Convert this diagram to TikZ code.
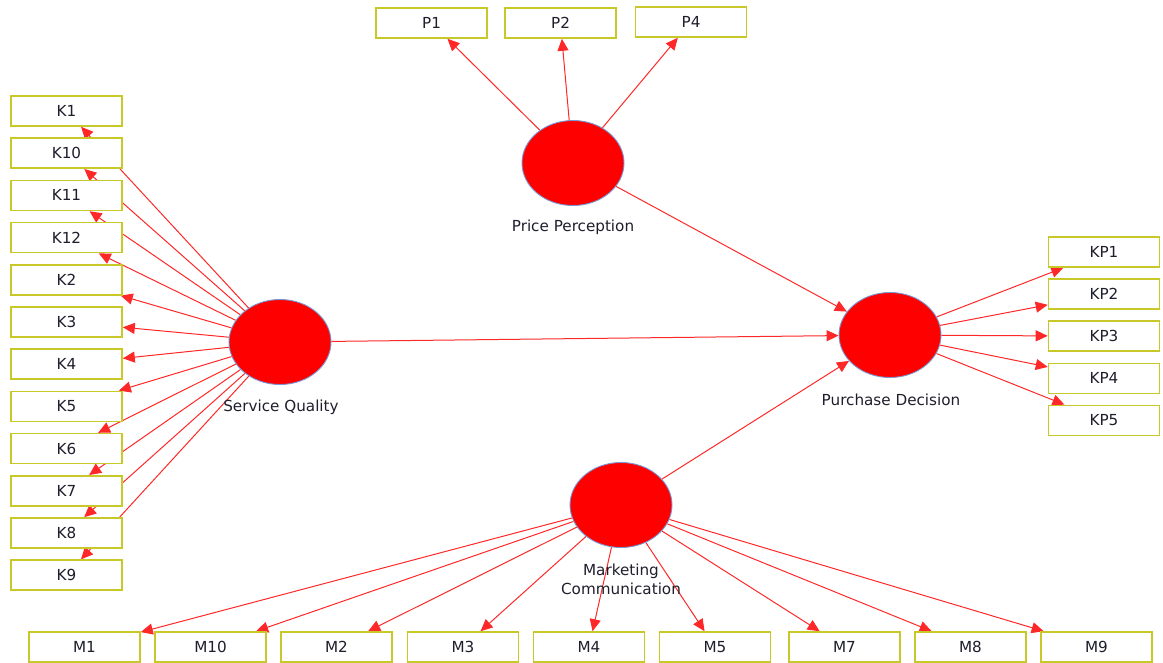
\documentclass[tikz,border=0pt]{standalone}
\usepackage{fontspec}
\setmainfont{DejaVu Sans}
\usetikzlibrary{arrows.meta,shapes.geometric}
\pgfdeclarelayer{bg}
\pgfsetlayers{bg,main}
\definecolor{boxline}{RGB}{200,200,40}
\definecolor{lvline}{RGB}{120,150,210}
\definecolor{txt}{RGB}{30,30,45}
\definecolor{linkred}{RGB}{255,40,40}
\tikzset{
  ind/.style={draw=boxline, line width=1.6pt, fill=white, minimum width=111pt, minimum height=30pt, inner sep=0pt, font=\fontsize{15.2}{17}\selectfont, text=txt},
  lv/.style={ellipse, draw=lvline, line width=0.9pt, fill=red, minimum width=102pt, minimum height=85pt, inner sep=0pt},
  lab/.style={font=\fontsize{15.2}{19}\selectfont, text=txt, align=center},
  link/.style={draw=linkred, line width=1pt, -{Triangle[length=12pt,width=11pt]}}
}
\begin{document}
\begin{tikzpicture}[x=1pt,y=-1pt]
\useasboundingbox (0,0) rectangle (1163,662);
% latent variables
\node[lv] (SQ) at (280,342) {};
\node[lv] (PP) at (573,163) {};
\node[lv] (PD) at (890,335) {};
\node[lv] (MC) at (621,505) {};
\node[lab] (SQl) at (281,407) {Service Quality};
\node[lab] (PPl) at (573,227) {Price Perception};
\node[lab] (PDl) at (891,400) {Purchase Decision};
\node[lab] (MCl) at (621,579) {Marketing\\Communication};
% K indicators
\foreach \n [count=\i from 0] in {K1,K10,K11,K12,K2,K3,K4,K5,K6,K7,K8,K9}{
  \node[ind] (\n) at (66.5,{111+42.2*\i}) {\n};
}
% KP indicators
\foreach \n [count=\i from 0] in {KP1,KP2,KP3,KP4,KP5}{
  \node[ind] (\n) at (1104,{252+42.1*\i}) {\n};
}
% P indicators
\node[ind] (P1) at (431.5,23) {P1};
\node[ind] (P2) at (560.5,23) {P2};
\node[ind] (P4) at (691,22) {P4};
% M indicators
\node[ind] (M1) at (84.5,647) {M1};
\node[ind] (M10) at (210.5,647) {M10};
\node[ind] (M2) at (336.5,647) {M2};
\node[ind] (M3) at (463,647) {M3};
\node[ind] (M4) at (589,647) {M4};
\node[ind] (M5) at (715,647) {M5};
\node[ind] (M7) at (844.5,647) {M7};
\node[ind] (M8) at (970.5,647) {M8};
\node[ind] (M9) at (1096.5,647) {M9};
% connectors
\begin{pgfonlayer}{bg}
\foreach \n in {K1,K10,K11,K12,K2,K3,K4,K5,K6,K7,K8,K9}{
  \path[link] (SQ) -- (\n);
}
\foreach \n in {KP1,KP2,KP3,KP4,KP5}{
  \path[link] (PD) -- (\n);
}
\foreach \n in {P1,P2,P4}{
  \path[link] (PP) -- (\n);
}
\foreach \n in {M1,M10,M2,M3,M4,M5,M7,M8,M9}{
  \path[link] (MC) -- (\n);
}
\path[link] (SQ) -- (PD);
\path[link] (PP) -- (PD);
\path[link] (MC) -- (PD);
\end{pgfonlayer}
\end{tikzpicture}
\end{document}
